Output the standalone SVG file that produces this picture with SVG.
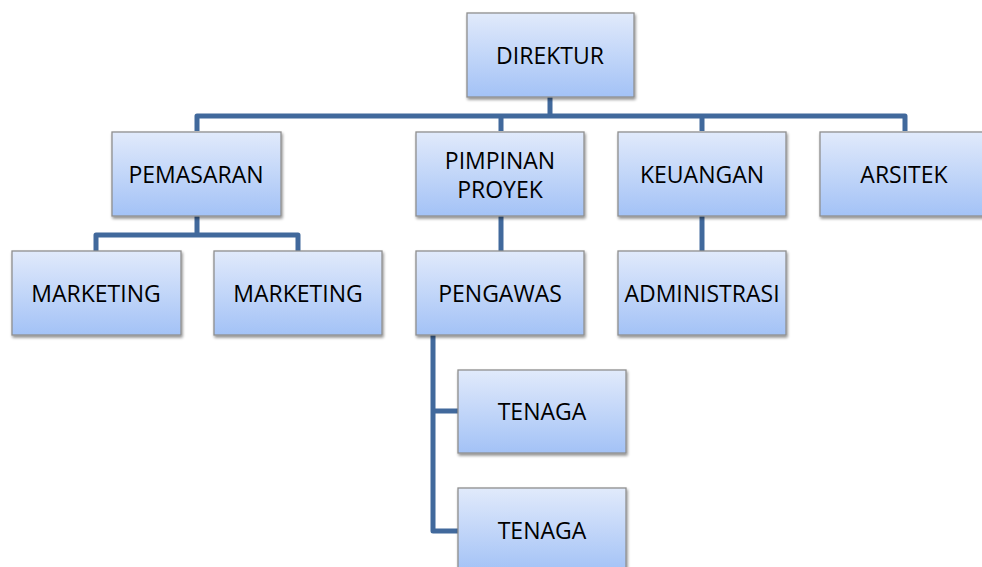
<svg xmlns="http://www.w3.org/2000/svg" width="982" height="567" viewBox="0 0 982 567">
<defs>
<linearGradient id="g" x1="0" y1="0" x2="0" y2="1">
<stop offset="0" stop-color="#e1eafb"/>
<stop offset="1" stop-color="#a3c2f6"/>
</linearGradient>
<filter id="sh" x="-10%" y="-10%" width="130%" height="130%">
<feGaussianBlur in="SourceAlpha" stdDeviation="1.5"/>
<feOffset dx="1" dy="2" result="b"/>
<feComponentTransfer><feFuncA type="linear" slope="0.45"/></feComponentTransfer>
<feMerge><feMergeNode/><feMergeNode in="SourceGraphic"/></feMerge>
</filter>
</defs>
<style>
.box{fill:url(#g);stroke:#8f8f8f;stroke-width:1.3;filter:url(#sh)}
.t{font-family:"Open Sans","Liberation Sans",sans-serif;font-size:23px;fill:#000;text-anchor:middle;dominant-baseline:central}
.c{fill:none;stroke:#41699c;stroke-width:5;stroke-linejoin:round}
</style>
<rect width="982" height="567" fill="#fff"/>
<g id="connectors">
<path class="c" d="M550 97 V116 M197 131 V116 H905 V131 M501 116 V131 M702 116 V131"/>
<path class="c" d="M197 216 V235 M96 251 V235 H298 V251"/>
<path class="c" d="M501 216 V251"/>
<path class="c" d="M702 216 V251"/>
<path class="c" d="M433 335 V531 H458 M433 411 H458"/>
</g>
<g id="direktur"><rect class="box" x="467" y="13" width="167" height="84"/><text class="t" x="550" y="55">DIREKTUR</text></g>
<g id="pemasaran"><rect class="box" x="112" y="132" width="169" height="84"/><text class="t" x="196" y="174">PEMASARAN</text></g>
<g id="pimpinan-proyek"><rect class="box" x="416" y="132" width="168" height="84"/><text class="t" x="500" y="160">PIMPINAN</text><text class="t" x="500" y="189">PROYEK</text></g>
<g id="keuangan"><rect class="box" x="618" y="132" width="168" height="84"/><text class="t" x="702" y="174">KEUANGAN</text></g>
<g id="arsitek"><rect class="box" x="820" y="132" width="168" height="84"/><text class="t" x="904" y="174">ARSITEK</text></g>
<g id="marketing1"><rect class="box" x="12" y="251" width="169" height="84"/><text class="t" x="96" y="293">MARKETING</text></g>
<g id="marketing2"><rect class="box" x="214" y="251" width="168" height="84"/><text class="t" x="298" y="293">MARKETING</text></g>
<g id="pengawas"><rect class="box" x="416" y="251" width="168" height="84"/><text class="t" x="500" y="293">PENGAWAS</text></g>
<g id="administrasi"><rect class="box" x="618" y="251" width="168" height="84"/><text class="t" x="702" y="293">ADMINISTRASI</text></g>
<g id="tenaga1"><rect class="box" x="458" y="370" width="168" height="83"/><text class="t" x="542" y="411">TENAGA</text></g>
<g id="tenaga2"><rect class="box" x="458" y="488" width="168" height="84"/><text class="t" x="542" y="530">TENAGA</text></g>
</svg>
